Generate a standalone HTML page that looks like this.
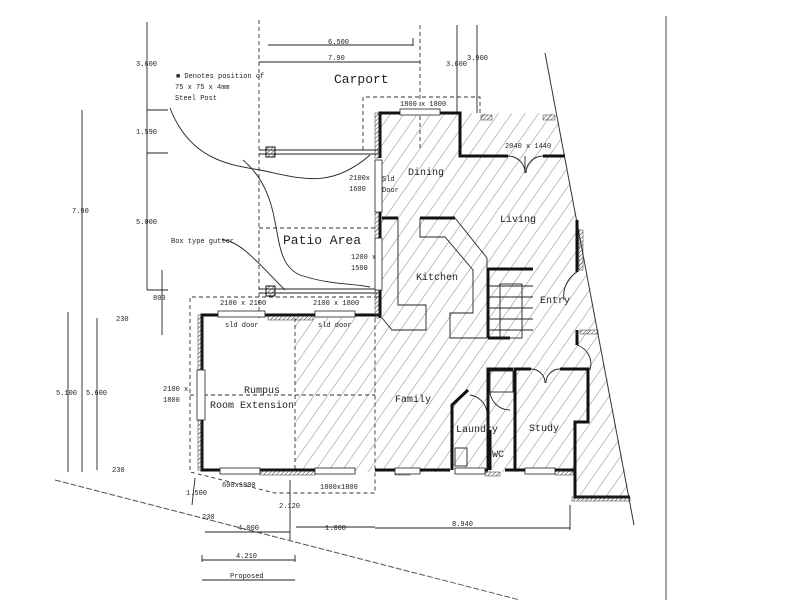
<!DOCTYPE html>
<html><head><meta charset="utf-8"><style>
html,body{margin:0;padding:0;background:#fff;}
svg{display:block;}
text{font-family:"Liberation Mono","DejaVu Sans Mono",monospace;fill:#222;}
</style></head><body>
<svg width="800" height="600" viewBox="0 0 800 600" xmlns="http://www.w3.org/2000/svg">
<defs>
<pattern id="h" width="11" height="11" patternUnits="userSpaceOnUse" patternTransform="rotate(35)">
<line x1="0" y1="0" x2="0" y2="11" stroke="#666" stroke-width="0.8"/>
</pattern>
<pattern id="w" width="3" height="3" patternUnits="userSpaceOnUse" patternTransform="rotate(45)">
<line x1="0" y1="0" x2="0" y2="3" stroke="#333" stroke-width="1"/>
</pattern>
</defs>
<rect width="800" height="600" fill="#fff"/>
<!-- hatched floor -->
<polygon points="377,113 557,113 630,497 575,497 575,472 295,472 295,318 377,318" fill="url(#h)"/>
<!-- right boundary -->
<line x1="545" y1="53" x2="634" y2="525" stroke="#333" stroke-width="1"/>
<line x1="666" y1="16" x2="666" y2="600" stroke="#444" stroke-width="1"/>
<!-- bottom boundary -->
<line x1="55" y1="480" x2="520" y2="600" stroke="#555" stroke-width="1" stroke-dasharray="6,2"/>

<!-- dashed lines -->
<g stroke="#333" stroke-width="0.9" fill="none" stroke-dasharray="4,3">
<line x1="259" y1="20" x2="259" y2="320"/>
<line x1="420" y1="25" x2="420" y2="150"/>
<polyline points="363,150 363,97 480,97 480,113"/>
<line x1="259" y1="228" x2="378" y2="228"/>
<polyline points="378,297 190,297 190,472 275,493 375,493 375,318"/>
<line x1="190" y1="395" x2="375" y2="395"/>
<line x1="295" y1="318" x2="295" y2="470"/>
</g>
<!-- beams -->
<g stroke="#222" stroke-width="1" fill="none">
<line x1="259" y1="150" x2="378" y2="150"/><line x1="259" y1="154" x2="378" y2="154"/>
<line x1="259" y1="289" x2="378" y2="289"/><line x1="259" y1="293" x2="378" y2="293"/>
</g>
<rect x="266" y="147" width="9" height="10" fill="url(#w)" stroke="#111"/>
<rect x="266" y="286" width="9" height="10" fill="url(#w)" stroke="#111"/>

<!-- walls -->
<g stroke="#111" stroke-width="3" fill="none">
<polyline points="380,158 380,113 400,113"/>
<polyline points="440,113 460,113 460,156 508,156"/>
<line x1="543" y1="156" x2="565" y2="156"/>
<line x1="380" y1="212" x2="380" y2="238"/>
<line x1="380" y1="290" x2="380" y2="318"/>
<line x1="382" y1="218" x2="398" y2="218"/>
<line x1="420" y1="218" x2="455" y2="218"/>
<polyline points="488,338 488,269 533,269"/>
<line x1="488" y1="338" x2="510" y2="338"/>
<line x1="577" y1="220" x2="577" y2="272"/>
<line x1="577" y1="330" x2="577" y2="345"/>
<polyline points="488,470 488,369 513,369"/>
<polyline points="515,470 515,369 531,369"/>
<polyline points="560,369 588,369 588,422 575,422 575,497 630,497"/>
<polyline points="452,470 452,405 468,390"/>
<line x1="490" y1="430" x2="490" y2="470"/>
<line x1="375" y1="470" x2="395" y2="470"/>
<line x1="420" y1="470" x2="450" y2="470"/>
<line x1="455" y1="470" x2="488" y2="470"/>
<line x1="505" y1="470" x2="525" y2="470"/>
<line x1="555" y1="470" x2="575" y2="470"/>
<!-- rumpus -->
<polyline points="202,370 202,315 218,315"/>
<line x1="265" y1="315" x2="315" y2="315"/>
<line x1="355" y1="315" x2="380" y2="315"/>
<polyline points="202,420 202,470 220,470"/>
<line x1="260" y1="470" x2="315" y2="470"/>
</g>
<!-- wall hatch strips -->
<g fill="url(#w)" stroke="#333" stroke-width="0.5">
<rect x="375" y="113" width="4" height="45"/>
<rect x="375" y="212" width="4" height="26"/>
<rect x="375" y="290" width="4" height="28"/>
<rect x="481" y="115" width="11" height="5"/>
<rect x="543" y="115" width="12" height="5"/>
<rect x="579" y="230" width="4" height="40"/>
<rect x="580" y="330" width="18" height="4"/>
<rect x="198" y="315" width="4" height="55"/>
<rect x="198" y="420" width="4" height="50"/>
<rect x="218" y="310" width="0" height="0"/>
<rect x="268" y="316" width="45" height="4"/>
<rect x="260" y="471" width="55" height="4"/>
<rect x="395" y="471" width="15" height="4"/>
<rect x="555" y="471" width="18" height="4"/>
<rect x="572" y="497" width="58" height="4"/>
<rect x="485" y="472" width="15" height="4"/>
</g>
<!-- windows -->
<g fill="#fff" stroke="#222" stroke-width="0.8">
<rect x="400" y="109" width="40" height="6"/>
<rect x="375" y="160" width="7" height="52"/>
<rect x="375" y="238" width="7" height="52"/>
<rect x="218" y="311" width="47" height="6"/>
<rect x="315" y="311" width="40" height="6"/>
<rect x="197" y="370" width="8" height="50"/>
<rect x="220" y="468" width="40" height="6"/>
<rect x="315" y="468" width="40" height="6"/>
<rect x="395" y="468" width="25" height="6"/>
<rect x="455" y="468" width="30" height="6"/>
<rect x="525" y="468" width="30" height="6"/>
</g>
<!-- kitchen / stair / fittings -->
<g stroke="#222" stroke-width="0.9" fill="none">
<polyline points="398,218 398,305 426,305 426,330 392,330 382,318"/>
<polyline points="455,218 487,258 487,338 450,338 450,313 473,313 473,270 445,237 420,237 420,218"/>
<line x1="488" y1="286" x2="533" y2="286"/><line x1="488" y1="297" x2="533" y2="297"/>
<line x1="488" y1="308" x2="533" y2="308"/><line x1="488" y1="319" x2="533" y2="319"/>
<line x1="488" y1="330" x2="533" y2="330"/>
<rect x="500" y="284" width="22" height="54"/>
<path d="M508,246"/>
<rect x="490" y="371" width="23" height="21"/>
<rect x="455" y="448" width="12" height="18"/>
<path d="M508,156 A17,17 0 0 1 525,173 L525,156 M543,156 A17,17 0 0 0 526,173"/>
<path d="M531,369 A14,14 0 0 1 545,383 M560,369 A14,14 0 0 0 546,383"/>
<path d="M577,272 A28,28 0 0 0 564,300 M577,345 A20,20 0 0 1 590,370"/>
<path d="M470,395 A20,20 0 0 1 487,412 M490,392 A20,20 0 0 0 510,410"/>
<!-- dimension lines -->
<line x1="147" y1="22" x2="147" y2="290"/>
<line x1="147" y1="110" x2="168" y2="110"/><line x1="147" y1="153" x2="168" y2="153"/>
<line x1="147" y1="290" x2="168" y2="290"/>
<line x1="82" y1="110" x2="82" y2="472"/>
<line x1="68" y1="312" x2="68" y2="472"/>
<line x1="97" y1="318" x2="97" y2="470"/>
<line x1="162" y1="270" x2="162" y2="335"/>
<line x1="268" y1="45" x2="413" y2="45"/><line x1="413" y1="38" x2="413" y2="46"/>
<line x1="259" y1="62" x2="420" y2="62"/>
<line x1="457" y1="25" x2="457" y2="113"/>
<line x1="477" y1="25" x2="477" y2="113"/>
<line x1="375" y1="528" x2="570" y2="528"/><line x1="570" y1="505" x2="570" y2="530"/>
<line x1="296" y1="527" x2="375" y2="527"/>
<line x1="205" y1="532" x2="290" y2="532"/>
<line x1="202" y1="555" x2="202" y2="562"/><line x1="202" y1="560" x2="295" y2="560"/><line x1="295" y1="555" x2="295" y2="562"/>
<line x1="202" y1="580" x2="295" y2="580"/>
<line x1="290" y1="480" x2="290" y2="540"/>
<line x1="195" y1="478" x2="192" y2="505"/>
<!-- leader curves -->
<path d="M170,108 C190,160 230,165 260,170 C300,178 330,190 370,155"/>
<path d="M243,160 C290,200 265,260 300,275 C330,285 350,283 370,287"/>
<path d="M222,240 C240,240 260,265 285,290"/>
</g>
<!-- labels -->
<g font-size="7">
<text x="136" y="66">3.600</text>
<text x="136" y="134">1.590</text>
<text x="136" y="224">5.000</text>
<text x="72" y="213">7.90</text>
<text x="153" y="300">800</text>
<text x="116" y="321">230</text>
<text x="56" y="395">5.100</text>
<text x="86" y="395">5.600</text>
<text x="112" y="472">230</text>
<text x="176" y="78">&#9632; Denotes position of</text>
<text x="175" y="89">  75 x 75 x 4mm</text>
<text x="175" y="100">  Steel Post</text>
<text x="171" y="243">Box type gutter</text>
<text x="328" y="44">6.500</text>
<text x="328" y="60">7.90</text>
<text x="446" y="66">3.600</text>
<text x="467" y="60">3.900</text>
<text x="400" y="106">1800 x 1800</text>
<text x="505" y="148">2040 x 1440</text>
<text x="349" y="180">2100x</text>
<text x="349" y="191">1600</text>
<text x="382" y="181">Sld</text>
<text x="382" y="192">Door</text>
<text x="351" y="259">1200 x</text>
<text x="351" y="270">1500</text>
<text x="220" y="305">2100 x 2100</text>
<text x="313" y="305">2100 x 1800</text>
<text x="225" y="327">sld door</text>
<text x="318" y="327">sld door</text>
<text x="163" y="391">2100 x</text>
<text x="163" y="402">1800</text>
<text x="222" y="487">600x1800</text>
<text x="320" y="489">1800x1800</text>
<text x="186" y="495">1.500</text>
<text x="279" y="508">2.120</text>
<text x="202" y="519">230</text>
<text x="238" y="530">4.000</text>
<text x="325" y="530">1.000</text>
<text x="452" y="526">8.940</text>
<text x="236" y="558">4.210</text>
<text x="230" y="578">Proposed</text>
</g>
<g font-size="10">
<text x="408" y="175">Dining</text>
<text x="500" y="222">Living</text>
<text x="416" y="280">Kitchen</text>
<text x="540" y="303">Entry</text>
<text x="395" y="402">Family</text>
<text x="456" y="432">Laundry</text>
<text x="529" y="431">Study</text>
<text x="492" y="457">WC</text>
<text x="244" y="393">Rumpus</text>
<text x="210" y="408">Room Extension</text>
</g>
<g font-size="13">
<text x="334" y="83">Carport</text>
<text x="283" y="244">Patio Area</text>
</g>
</svg>
</body></html>
